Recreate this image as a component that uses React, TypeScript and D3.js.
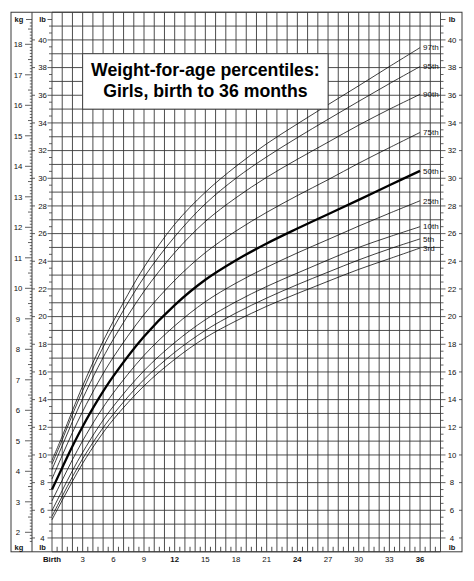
import { useEffect, useRef } from 'react';
import * as d3 from 'd3';

// ages in months, weights in kg
const ages = [0, 1, 2, 3, 4.5, 6, 9, 12, 15, 18, 21, 24, 27, 30, 33, 36];

const p3 = [2.41, 3.05, 3.67, 4.26, 5.03, 5.7, 6.8, 7.67, 8.38, 8.93, 9.41, 9.83, 10.23, 10.62, 10.97, 11.32];
const p5 = [2.53, 3.18, 3.82, 4.41, 5.19, 5.87, 7.01, 7.9, 8.62, 9.19, 9.68, 10.12, 10.53, 10.93, 11.29, 11.62];
const p10 = [2.71, 3.37, 4.02, 4.62, 5.43, 6.13, 7.3, 8.22, 8.97, 9.56, 10.06, 10.5, 10.93, 11.34, 11.69, 12.02];
const p25 = [3.03, 3.71, 4.38, 5.0, 5.84, 6.57, 7.8, 8.77, 9.56, 10.17, 10.69, 11.16, 11.6, 12.04, 12.46, 12.87];
const p50 = [3.4, 4.12, 4.82, 5.47, 6.35, 7.12, 8.42, 9.45, 10.28, 10.92, 11.47, 11.96, 12.43, 12.9, 13.38, 13.85];
const p75 = [3.75, 4.52, 5.27, 5.96, 6.91, 7.74, 9.14, 10.26, 11.17, 11.88, 12.49, 13.04, 13.56, 14.1, 14.61, 15.11];
const p90 = [4.06, 4.84, 5.63, 6.38, 7.41, 8.33, 9.9, 11.17, 12.19, 12.97, 13.64, 14.23, 14.79, 15.35, 15.87, 16.36];
const p95 = [4.24, 5.03, 5.86, 6.64, 7.73, 8.7, 10.36, 11.69, 12.77, 13.61, 14.31, 14.94, 15.54, 16.13, 16.71, 17.27];
const p97 = [4.36, 5.15, 5.99, 6.8, 7.92, 8.92, 10.69, 12.1, 13.15, 14.0, 14.74, 15.39, 16.02, 16.64, 17.27, 17.89];

const percentileNames = ['3rd', '5th', '10th', '25th', '50th', '75th', '90th', '95th', '97th'];
const percentileSeries = [p3, p5, p10, p25, p50, p75, p90, p95, p97];

const monthTicks = [0, 3, 6, 9, 12, 15, 18, 21, 24, 27, 30, 33, 36];
const monthLabels = ['Birth', '3', '6', '9', '12', '15', '18', '21', '24', '27', '30', '33', '36'];
const boldMonths = [0, 12, 24, 36];

const kgLabels = [2, 3, 4, 5, 6, 7, 8, 9, 10, 11, 12, 13, 14, 15, 16, 17, 18];
const lbLabels = [4, 6, 8, 10, 12, 14, 16, 18, 20, 22, 24, 26, 28, 30, 32, 34, 36, 38, 40];

const titleLines = ['Weight-for-age percentiles:', 'Girls, birth to 36 months'];

const LB_PER_KG = 2.20462;
const WIDTH = 474;
const HEIGHT = 581;
const FONT = '"Liberation Sans", Arial, Helvetica, sans-serif';

const App = () => {
	const svgRef = useRef<SVGSVGElement>(null);

	useEffect(() => {
		document.body.style.margin = '0';
		if (!svgRef.current) return;

		const svg = d3.select(svgRef.current);
		svg.selectAll('*').remove();

		const x = d3.scaleLinear().domain([0, 38]).range([52, 440.5]);
		const y = d3.scaleLinear().domain([2, 18]).range([532.3, 44.3]);
		const yLb = (lb: number) => y(lb / LB_PER_KG);

		const top = yLb(42);
		const bottom = yLb(3);
		const left = 11;
		const right = 462;
		const kgLine = 32;
		const gridColor = '#3a3a3a';

		svg.append('rect')
			.attr('width', WIDTH)
			.attr('height', HEIGHT)
			.attr('fill', '#fff');

		// grid
		const grid = svg.append('g').attr('stroke', gridColor).attr('stroke-width', 0.9);
		d3.range(0, 39).forEach((m) => {
			grid.append('line')
				.attr('x1', x(m)).attr('x2', x(m))
				.attr('y1', top).attr('y2', bottom);
		});
		d3.range(3, 43).forEach((lb) => {
			grid.append('line')
				.attr('x1', x(0)).attr('x2', x(38))
				.attr('y1', yLb(lb)).attr('y2', yLb(lb));
		});

		// half-month ticks along the bottom
		d3.range(0.5, 38, 1).forEach((m) => {
			grid.append('line')
				.attr('x1', x(m)).attr('x2', x(m))
				.attr('y1', bottom - 5).attr('y2', bottom);
		});

		// frame and column lines
		const frame = svg.append('g').attr('stroke', gridColor).attr('stroke-width', 1).attr('fill', 'none');
		frame.append('rect')
			.attr('x', left).attr('y', top)
			.attr('width', right - left).attr('height', bottom - top);
		frame.append('line')
			.attr('x1', kgLine).attr('x2', kgLine)
			.attr('y1', top).attr('y2', bottom);

		// kg ticks
		const kgTicks = svg.append('g').attr('stroke', gridColor).attr('stroke-width', 0.8);
		d3.range(17, 188).forEach((t) => {
			const kg = t / 10;
			const len = t % 10 === 0 ? 7 : t % 5 === 0 ? 4 : 2.2;
			kgTicks.append('line')
				.attr('x1', kgLine - len).attr('x2', kgLine)
				.attr('y1', y(kg)).attr('y2', y(kg));
		});

		// lb ticks, both sides
		const lbTicks = svg.append('g').attr('stroke', gridColor).attr('stroke-width', 0.8);
		d3.range(8, 83).forEach((t) => {
			const lb = t / 2;
			const major = lbLabels.includes(lb);
			const yy = yLb(lb);
			lbTicks.append('line')
				.attr('x1', major ? 47.5 : 49).attr('x2', 52)
				.attr('y1', yy).attr('y2', yy);
			lbTicks.append('line')
				.attr('x1', x(38)).attr('x2', x(38) + (major ? 5 : 3))
				.attr('y1', yy).attr('y2', yy);
			if (major) {
				lbTicks.append('line')
					.attr('x1', kgLine).attr('x2', kgLine + 3)
					.attr('y1', yy).attr('y2', yy);
				lbTicks.append('line')
					.attr('x1', right - 3).attr('x2', right)
					.attr('y1', yy).attr('y2', yy);
			}
		});

		const text = svg.append('g')
			.style('font-family', FONT)
			.style('font-size', '7.8px')
			.attr('fill', '#111');

		kgLabels.forEach((kg) => {
			text.append('text')
				.attr('x', 18).attr('y', y(kg))
				.attr('dy', '0.35em')
				.attr('text-anchor', 'middle')
				.text(kg);
		});
		lbLabels.forEach((lb) => {
			text.append('text')
				.attr('x', 42.5).attr('y', yLb(lb))
				.attr('dy', '0.35em')
				.attr('text-anchor', 'middle')
				.text(lb);
			text.append('text')
				.attr('x', 452).attr('y', yLb(lb))
				.attr('dy', '0.35em')
				.attr('text-anchor', 'middle')
				.text(lb);
		});

		// unit labels at top and bottom
		const unitRows = [19.5, 547];
		unitRows.forEach((uy) => {
			[
				{ t: 'kg', cx: 19 },
				{ t: 'lb', cx: 42.5 },
				{ t: 'lb', cx: 452 },
			].forEach((u) => {
				text.append('text')
					.attr('x', u.cx).attr('y', uy)
					.attr('dy', '0.35em')
					.attr('text-anchor', 'middle')
					.style('font-weight', 'bold')
					.style('font-size', '7.5px')
					.text(u.t);
			});
		});
		svg.append('g').attr('stroke', gridColor).attr('stroke-width', 0.8)
			.selectAll('line')
			.data([[kgLine - 6, kgLine], [47.5, 52], [x(38), x(38) + 5]])
			.join('line')
			.attr('x1', (d) => d[0]).attr('x2', (d) => d[1])
			.attr('y1', unitRows[0]).attr('y2', unitRows[0]);

		// month labels
		monthTicks.forEach((m, i) => {
			text.append('text')
				.attr('x', x(m)).attr('y', 562)
				.attr('text-anchor', 'middle')
				.style('font-weight', boldMonths.includes(m) ? 'bold' : 'normal')
				.text(monthLabels[i]);
		});

		// percentile curves
		const line = d3.line<number>()
			.x((_, i) => x(ages[i]))
			.y((d) => y(d))
			.curve(d3.curveCatmullRom.alpha(0.5));

		const curves = svg.append('g').attr('fill', 'none').attr('stroke', '#000');
		percentileSeries.forEach((s, i) => {
			curves.append('path')
				.attr('d', line(s) ?? '')
				.attr('stroke-width', percentileNames[i] === '50th' ? 2.3 : 0.75);
			text.append('text')
				.attr('x', x(36) + 3).attr('y', y(s[s.length - 1]))
				.attr('dy', '0.35em')
				.style('font-size', '8px')
				.text(percentileNames[i]);
		});

		// title box
		svg.append('rect')
			.attr('x', x(3)).attr('y', yLb(39))
			.attr('width', x(27) - x(3))
			.attr('height', yLb(35) - yLb(39))
			.attr('fill', '#fff')
			.attr('stroke', gridColor)
			.attr('stroke-width', 0.9);

		const title = svg.append('text')
			.attr('text-anchor', 'middle')
			.style('font-family', FONT)
			.style('font-weight', 'bold')
			.style('font-size', '17.7px')
			.attr('fill', '#000');
		titleLines.forEach((t, i) => {
			title.append('tspan')
				.attr('x', x(15))
				.attr('y', 75.5 + i * 21.5)
				.text(t);
		});
	}, []);

	return (
		<svg
			ref={svgRef}
			width={WIDTH}
			height={HEIGHT}
			style={{ display: 'block', position: 'absolute', left: 0, top: 0 }}
		></svg>
	);
};

export default App;
